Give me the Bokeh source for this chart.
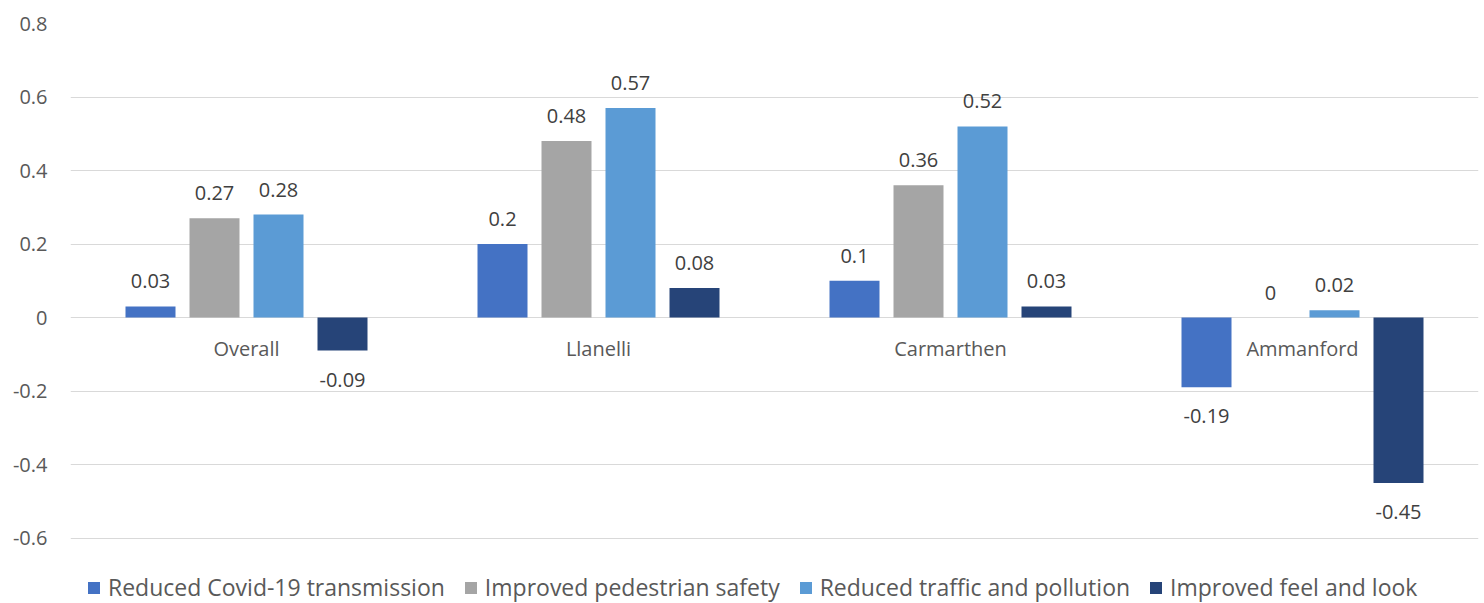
from bokeh.plotting import figure
from bokeh.models import (ColumnDataSource, FactorRange, Range1d, LabelSet, Legend,
                          LegendItem, FixedTicker)
from bokeh.core.properties import value
from bokeh.transform import dodge
from bokeh.embed import file_html
from bokeh.resources import INLINE

categories = ["Overall", "Llanelli", "Carmarthen", "Ammanford"]
series_names = ["Reduced Covid-19 transmission", "Improved pedestrian safety",
                "Reduced traffic and pollution", "Improved feel and look"]
covid = [0.03, 0.2, 0.1, -0.19]
pedestrian = [0.27, 0.48, 0.36, 0.0]
traffic = [0.28, 0.57, 0.52, 0.02]
feel = [-0.09, 0.08, 0.03, -0.45]
y_ticks = [-0.6, -0.4, -0.2, 0.0, 0.2, 0.4, 0.6, 0.8]
y_tick_labels = ["-0.6", "-0.4", "-0.2", "0", "0.2", "0.4", "0.6", "0.8"]

colors = ["#4472C4", "#A5A5A5", "#5B9BD5", "#264478"]
offsets = [-96 / 352, -32 / 352, 32 / 352, 96 / 352]
bar_w = 50 / 352
FONT = "Open Sans"

# frame extends below the last gridline to leave room for the legend
p = figure(x_range=FactorRange(factors=categories), y_range=Range1d(-0.7782, 0.8),
           width=1484, height=603, output_backend="svg", toolbar_location=None,
           min_border_left=70, min_border_right=6, min_border_top=23,
           min_border_bottom=0)
p.outline_line_color = None
p.background_fill_color = "white"
p.xaxis.visible = False
p.xgrid.grid_line_color = None
p.ygrid.grid_line_color = "#D9D9D9"
p.ygrid.grid_line_width = 1
p.ygrid.ticker = FixedTicker(ticks=y_ticks)

yax = p.yaxis[0]
yax.ticker = FixedTicker(ticks=y_ticks)
yax.major_label_overrides = {t: l for t, l in zip(y_ticks, y_tick_labels)}
yax.axis_line_color = None
yax.major_tick_line_color = None
yax.minor_tick_line_color = None
yax.major_tick_out = 0
yax.major_tick_in = 0
yax.major_label_standoff = 23
yax.major_label_text_font = FONT
yax.major_label_text_font_size = "20px"
yax.major_label_text_color = "#595959"

items = []
for name, vals, col, off in zip(series_names, [covid, pedestrian, traffic, feel], colors, offsets):
    src = ColumnDataSource(dict(
        cat=categories,
        val=vals,
        txt=[f"{v:g}" for v in vals],
        yoff=[25 if v >= 0 else -29 for v in vals],
    ))
    r = p.vbar(x=dodge("cat", off, range=p.x_range), top="val", bottom=0, width=bar_w,
               source=src, fill_color=col, line_color=None)
    items.append(LegendItem(label=name, renderers=[r]))
    lbl = LabelSet(x=dodge("cat", off, range=p.x_range), y="val", text="txt",
                   y_offset="yoff", source=src, text_align="center",
                   text_baseline="middle", text_font=value(FONT),
                   text_font_size="20px", text_color="#404040")
    p.add_layout(lbl)

cat_src = ColumnDataSource(dict(cat=categories, y=[0] * len(categories)))
cat_lbl = LabelSet(x="cat", y="y", text="cat", y_offset=-31, source=cat_src,
                   text_align="center", text_baseline="middle", text_font=value(FONT),
                   text_font_size="20px", text_color="#595959")
p.add_layout(cat_lbl)

legend = Legend(items=items, orientation="horizontal", location=(16, 0),
                glyph_width=15, glyph_height=15, label_standoff=7, spacing=18,
                label_text_font=FONT, label_text_font_size="23px",
                label_text_color="#595959", padding=0, margin=0,
                border_line_color=None, background_fill_alpha=0)
p.add_layout(legend)

open("out.html", "w").write(file_html(p, INLINE))
